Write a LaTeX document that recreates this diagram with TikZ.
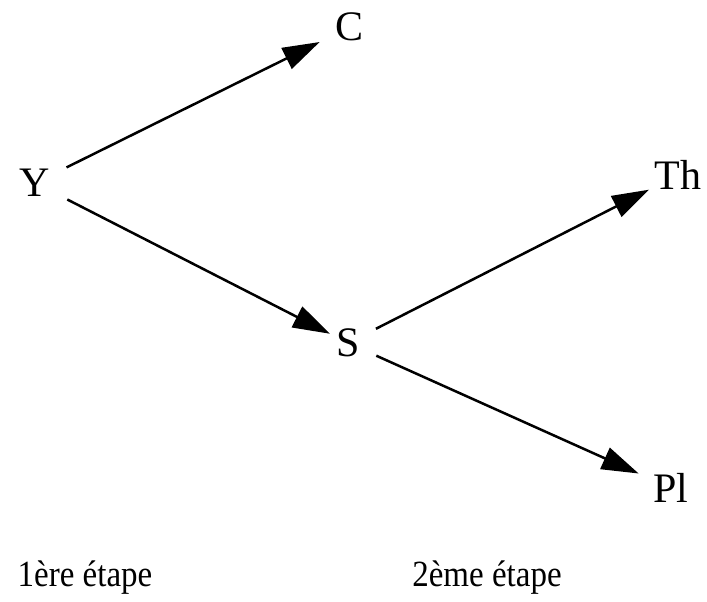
\documentclass[tikz,border=0pt]{standalone}
\usepackage{fontspec}
\setmainfont{Liberation Serif}
\usetikzlibrary{arrows.meta}

\begin{document}
\begin{tikzpicture}[
  x=1pt, y=-1pt,
  st/.style={inner sep=0pt, font=\fontsize{42}{42}\selectfont},
  ar/.style={-{Triangle[length=37pt, width=23pt]}, line width=2.5pt},
  lbl/.style={inner sep=0pt, yscale=1.12, font=\fontsize{33}{33}\selectfont},
]
\useasboundingbox (0,0) rectangle (707,602);
% ---------------- states ----------------
\node[st] (Y)  at (35,183)  {Y};
\node[st] (C)  at (350,27)  {C};
\node[st] (S)  at (348,343) {S};
\node[st] (Th) at (678,175) {Th};
\node[st] (Pl) at (671,488) {Pl};
% ---------------- steps ----------------
\draw[ar, shorten <=18pt, shorten >=18pt] (Y) -- (C);
\draw[ar, shorten <=19pt, shorten >=7pt]  (Y) -- (S);
\draw[ar, shorten <=18pt, shorten >=6pt]  (S) -- (Th);
\draw[ar, shorten <=18pt, shorten >=16pt] (S) -- (Pl);
% ---------------- stage labels ----------------
\node[lbl] (e1) at (85,578)  {1ère étape};
\node[lbl] (e2) at (487,578) {2ème étape};
\end{tikzpicture}
\end{document}
